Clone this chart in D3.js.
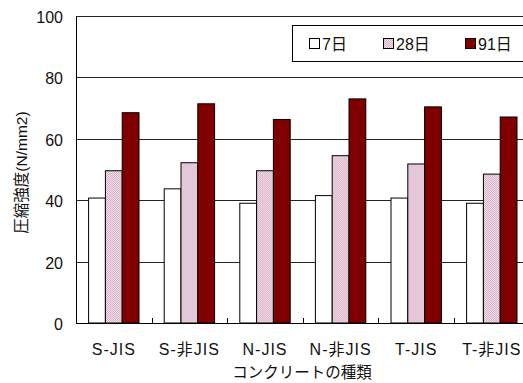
<!DOCTYPE html>
<html>
<head>
<meta charset="utf-8">
<script src="https://cdn.jsdelivr.net/npm/d3@7/dist/d3.min.js"></script>
<style>
  html, body { margin: 0; padding: 0; background: #fff; }
  svg { display: block; }
  text { font-family: "Liberation Sans", Arial, "Noto Sans CJK JP", sans-serif; fill: #111; }
  .jp { font-family: "Liberation Sans", "Noto Sans CJK JP", sans-serif; }
</style>
</head>
<body>
<script>
// Compressive strength by concrete type and curing age
const categories = ["S-JIS", "S-非JIS", "N-JIS", "N-非JIS", "T-JIS", "T-非JIS"];
const seriesNames = ["7日", "28日", "91日"];
const day7  = [40.7, 43.7, 39.0, 41.5, 40.7, 39.0];
const day28 = [49.6, 52.2, 49.6, 54.5, 51.8, 48.5];
const day91 = [68.5, 71.4, 66.3, 73.0, 70.4, 67.1];
const yTicks = [0, 20, 40, 60, 80, 100];
const yTitle = "圧縮強度(N/mm2)";
const xTitle = "コンクリートの種類";

const seriesValues = [day7, day28, day91];
const fills = ["#ffffff", "url(#dots)", "#800000"];

const W = 523, H = 383;
const plot = { left: 76, right: 529.6, top: 16, bottom: 323 };

const svg = d3.select("body").append("svg")
  .attr("width", W).attr("height", H);

// fine checker texture for the 28-day bars
const defs = svg.append("defs");
const pat = defs.append("pattern").attr("id", "dots")
  .attr("patternUnits", "userSpaceOnUse").attr("width", 2).attr("height", 2);
pat.append("rect").attr("width", 2).attr("height", 2).attr("fill", "#efdce6");
pat.append("rect").attr("width", 1).attr("height", 1).attr("fill", "#d9b4c7");
pat.append("rect").attr("x", 1).attr("y", 1).attr("width", 1).attr("height", 1).attr("fill", "#d9b4c7");

const x0 = d3.scaleBand().domain(categories).range([plot.left, plot.right]).padding(0);
const x1 = d3.scaleBand().domain(seriesNames).range([0, x0.bandwidth()])
  .paddingInner(0).paddingOuter(0.75);
const y = d3.scaleLinear().domain([0, 100]).range([plot.bottom, plot.top]);

const crisp = v => Math.round(v) + 0.5;

// horizontal gridlines
svg.append("g").selectAll("line").data(yTicks.filter(d => d > 0)).join("line")
  .attr("x1", plot.left).attr("x2", plot.right)
  .attr("y1", d => crisp(y(d))).attr("y2", d => crisp(y(d)))
  .attr("stroke", "#222").attr("stroke-width", 1);

// bars
const rows = categories.map((c, i) => ({ c, vals: seriesValues.map((s, k) => ({ k, name: seriesNames[k], v: s[i] })) }));
const groups = svg.append("g").selectAll("g").data(rows).join("g")
  .attr("transform", d => `translate(${x0(d.c)},0)`);
groups.selectAll("rect").data(d => d.vals).join("rect")
  .attr("x", d => x1(d.name))
  .attr("y", d => y(d.v))
  .attr("width", x1.bandwidth())
  .attr("height", d => y(0) - y(d.v))
  .attr("fill", d => fills[d.k])
  .attr("stroke", "#000").attr("stroke-width", 1);

// y axis line and labels
svg.append("line")
  .attr("x1", crisp(plot.left)).attr("x2", crisp(plot.left))
  .attr("y1", plot.top).attr("y2", plot.bottom)
  .attr("stroke", "#000");
svg.append("g").selectAll("text").data(yTicks).join("text")
  .attr("x", 63).attr("y", d => y(d) + 7)
  .attr("text-anchor", "end").attr("font-size", 16)
  .text(d => d);

// x axis with inward ticks at category boundaries
svg.append("line")
  .attr("x1", plot.left).attr("x2", plot.right)
  .attr("y1", crisp(plot.bottom)).attr("y2", crisp(plot.bottom))
  .attr("stroke", "#000");
svg.append("g").selectAll("line").data(categories.slice(1)).join("line")
  .attr("x1", d => crisp(x0(d))).attr("x2", d => crisp(x0(d)))
  .attr("y1", plot.bottom).attr("y2", plot.bottom - 5)
  .attr("stroke", "#000");
svg.append("g").selectAll("text").data(categories).join("text")
  .attr("class", "jp")
  .attr("x", d => x0(d) + x0.bandwidth() / 2).attr("y", 355)
  .attr("text-anchor", "middle").attr("font-size", 16)
  .attr("letter-spacing", 1)
  .text(d => d);

// axis titles
svg.append("text").attr("class", "jp")
  .attr("x", 302).attr("y", 378)
  .attr("text-anchor", "middle").attr("font-size", 15.5)
  .text(xTitle);
svg.append("text").attr("class", "jp")
  .attr("transform", `translate(27,${(plot.top + plot.bottom) / 2 + 3}) rotate(-90)`)
  .attr("text-anchor", "middle").attr("font-size", 15.5)
  .text(yTitle);

// legend
const lg = svg.append("g");
lg.append("rect")
  .attr("x", 292.5).attr("y", 25.5).attr("width", 260).attr("height", 36)
  .attr("fill", "#fff").attr("stroke", "#000");
const legX = [309, 383, 465];
seriesNames.forEach((n, k) => {
  lg.append("rect")
    .attr("x", legX[k] + 0.5).attr("y", 38.5).attr("width", 10).attr("height", 10)
    .attr("fill", fills[k]).attr("stroke", "#000");
  lg.append("text").attr("class", "jp")
    .attr("x", legX[k] + 13).attr("y", 50)
    .attr("font-size", 16)
    .text(n);
});
</script>
</body>
</html>
